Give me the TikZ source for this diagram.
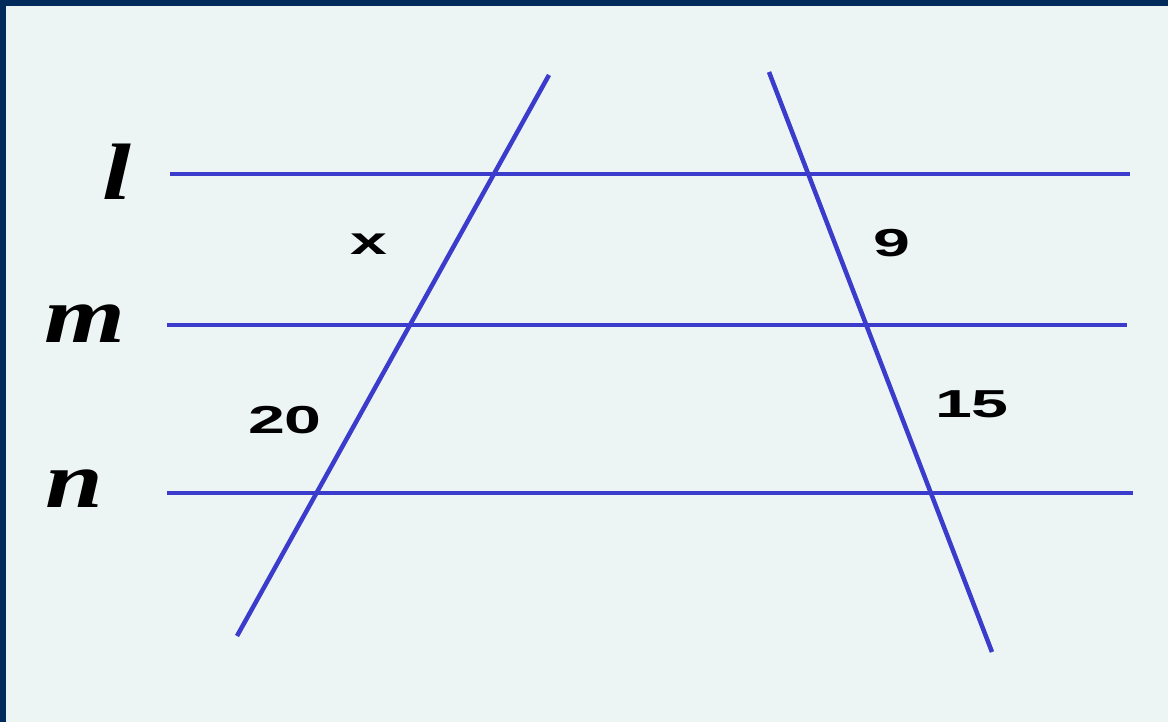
\documentclass[tikz,border=0pt]{standalone}
\usepackage{fontspec}
\setmainfont{Liberation Serif}
\setsansfont{Liberation Sans}
\definecolor{frame}{HTML}{022B5C}
\definecolor{paper}{HTML}{EDF5F4}
\definecolor{ink}{HTML}{3B3BCC}
\tikzset{
	line/.style={ink,line width=4.5pt},
	linename/.style={anchor=base,xscale=1.3,font=\fontsize{80}{90}\selectfont\bfseries\itshape},
	seglen/.style={anchor=base,xscale=1.7,font=\fontsize{39}{44}\selectfont\sffamily\bfseries}
}
\begin{document}
\begin{tikzpicture}[x=1pt,y=-1pt]
	\useasboundingbox (0,0) rectangle (1168,722);
	\fill[paper] (0,0) rectangle (1168,722);
	\fill[frame] (0,0) rectangle (1168,6);
	\fill[frame] (0,0) rectangle (6,722);
	% parallel lines l, m, n
	\foreach \nm/\y/\xa/\xb/\lx/\ly in {l/174/170/1130/117/200, m/325/167/1127/85/342, n/493/167/1133/74/507} {
		\coordinate (\nm-w) at (\xa,\y);
		\coordinate (\nm-e) at (\xb,\y);
		\draw[line] (\nm-w) -- (\nm-e);
		\node[linename] (name-\nm) at (\lx,\ly) {\nm};
	}
	% transversals
	\coordinate (left-top) at (549,75);
	\coordinate (left-bot) at (237,636);
	\coordinate (right-top) at (769,72);
	\coordinate (right-bot) at (992,652);
	\draw[line] (left-top) -- (left-bot);
	\draw[line] (right-top) -- (right-bot);
	% segment lengths
	\node[seglen] (len-x) at (369,255) {x};
	\node[seglen] (len-20) at (285,433) {20};
	\node[seglen] (len-9) at (892,257) {9};
	\node[seglen] (len-15) at (972,417) {15};
\end{tikzpicture}
\end{document}
